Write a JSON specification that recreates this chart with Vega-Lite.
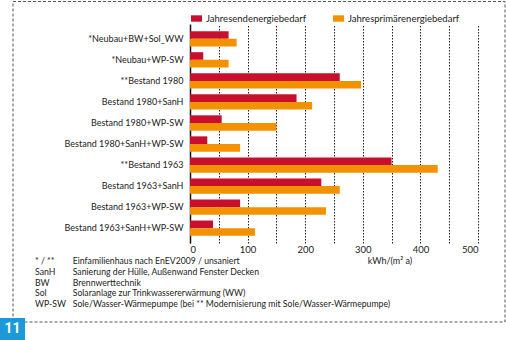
{
  "$schema": "https://vega.github.io/schema/vega-lite/v6.json",
  "padding": {"left": 0, "top": 1, "right": 0, "bottom": 0},
  "autosize": {"type": "pad"},
  "background": "white",
  "bounds": "flush",
  "spacing": 12.6,
  "config": {
    "font": "Lato",
    "view": {"stroke": null},
    "text": {"font": "Lato"}
  },
  "vconcat": [
    {
      "width": 288,
      "height": 219,
      "layer": [
        {
          "data": {"values": [{"label": "border"}]},
          "mark": {"type": "rect", "fill": null, "stroke": "#555", "strokeWidth": 1, "strokeDash": [3, 2]},
          "encoding": {
            "x": {"value": -177}, "x2": {"value": 315},
            "y": {"value": -22.5}, "y2": {"value": 298}
          }
        },
        {
          "data": {"values": [{"label": "11"}]},
          "mark": {"type": "rect", "fill": "#1B9AD7"},
          "encoding": {
            "x": {"value": -190}, "x2": {"value": -165},
            "y": {"value": 294}, "y2": {"value": 316}
          }
        },
        {
          "data": {"values": [{"label": "11"}]},
          "mark": {"type": "text", "color": "white", "fontSize": 14, "fontWeight": "bold", "font": "Roboto", "align": "center", "baseline": "middle"},
          "encoding": {
            "x": {"value": -177.5}, "y": {"value": 305},
            "text": {"field": "label", "type": "nominal"}
          }
        },
        {
          "data": {
            "values": [
              {"category": "*Neubau+BW+Sol_WW", "series": "Jahresendenergiebedarf", "value": 67},
              {"category": "*Neubau+BW+Sol_WW", "series": "Jahresprimärenergiebedarf", "value": 81},
              {"category": "*Neubau+WP-SW", "series": "Jahresendenergiebedarf", "value": 23},
              {"category": "*Neubau+WP-SW", "series": "Jahresprimärenergiebedarf", "value": 67},
              {"category": "**Bestand 1980", "series": "Jahresendenergiebedarf", "value": 260},
              {"category": "**Bestand 1980", "series": "Jahresprimärenergiebedarf", "value": 297},
              {"category": "Bestand 1980+SanH", "series": "Jahresendenergiebedarf", "value": 185},
              {"category": "Bestand 1980+SanH", "series": "Jahresprimärenergiebedarf", "value": 212},
              {"category": "Bestand 1980+WP-SW", "series": "Jahresendenergiebedarf", "value": 55},
              {"category": "Bestand 1980+WP-SW", "series": "Jahresprimärenergiebedarf", "value": 150},
              {"category": "Bestand 1980+SanH+WP-SW", "series": "Jahresendenergiebedarf", "value": 30},
              {"category": "Bestand 1980+SanH+WP-SW", "series": "Jahresprimärenergiebedarf", "value": 87},
              {"category": "**Bestand 1963", "series": "Jahresendenergiebedarf", "value": 350},
              {"category": "**Bestand 1963", "series": "Jahresprimärenergiebedarf", "value": 430},
              {"category": "Bestand 1963+SanH", "series": "Jahresendenergiebedarf", "value": 228},
              {"category": "Bestand 1963+SanH", "series": "Jahresprimärenergiebedarf", "value": 260},
              {"category": "Bestand 1963+WP-SW", "series": "Jahresendenergiebedarf", "value": 87},
              {"category": "Bestand 1963+WP-SW", "series": "Jahresprimärenergiebedarf", "value": 236},
              {"category": "Bestand 1963+SanH+WP-SW", "series": "Jahresendenergiebedarf", "value": 40},
              {"category": "Bestand 1963+SanH+WP-SW", "series": "Jahresprimärenergiebedarf", "value": 113}
            ]
          },
          "mark": {"type": "bar"},
          "encoding": {
            "x": {
              "field": "value", "type": "quantitative",
              "scale": {"domain": [0, 500], "nice": false},
              "axis": {
                "values": [0, 50, 100, 150, 200, 250, 300, 350, 400, 450, 500],
                "labelExpr": "datum.value % 100 === 0 ? datum.label : ''",
                "title": null,
                "domain": false, "ticks": false,
                "grid": true, "gridColor": "#222", "gridDash": [1.5, 1.5], "gridWidth": 1,
                "labelFont": "Lato", "labelFontSize": 9.5, "labelColor": "#222", "labelPadding": 1.5
              }
            },
            "y": {
              "field": "category", "type": "nominal", "sort": null,
              "scale": {"paddingInner": 0.272, "paddingOuter": 0.34},
              "axis": {
                "title": null, "ticks": false, "grid": false,
                "domainColor": "#111", "domainWidth": 1.5,
                "labelFont": "Lato", "labelFontSize": 9, "labelColor": "#222", "labelPadding": 7
              }
            },
            "yOffset": {"field": "series", "type": "nominal", "sort": null},
            "color": {
              "field": "series", "type": "nominal", "sort": null,
              "scale": {"range": ["#C8102E", "#F39200"]},
              "legend": {
                "title": null, "orient": "none", "direction": "horizontal",
                "legendX": 1, "legendY": -11,
                "symbolType": "M-1,-0.58H1V0.58H-1Z", "symbolSize": 121,
                "symbolStrokeWidth": 0, "symbolOpacity": 1,
                "labelFont": "Lato", "labelFontSize": 9.5, "labelColor": "#222",
                "labelOffset": 4, "columnPadding": 27
              }
            }
          }
        }
      ]
    },
    {
      "width": 288,
      "height": 54,
      "data": {
        "values": [
          {"line": 1, "abbr": "* / **", "desc": "Einfamilienhaus nach EnEV2009  / unsaniert", "unit": "kWh/(m² a)"},
          {"line": 2, "abbr": "SanH", "desc": "Sanierung der Hülle, Außenwand Fenster Decken"},
          {"line": 3, "abbr": "BW", "desc": "Brennwerttechnik"},
          {"line": 4, "abbr": "Sol", "desc": "Solaranlage zur Trinkwassererwärmung (WW)"},
          {"line": 5, "abbr": "WP-SW", "desc": "Sole/Wasser-Wärmepumpe (bei ** Modernisierung mit Sole/Wasser-Wärmepumpe)"}
        ]
      },
      "encoding": {
        "y": {"field": "line", "type": "ordinal", "axis": null, "scale": {"paddingInner": 0, "paddingOuter": 0}}
      },
      "layer": [
        {
          "mark": {"type": "text", "align": "left", "baseline": "middle", "fontSize": 8.7, "color": "#222"},
          "encoding": {"x": {"value": -155}, "text": {"field": "abbr", "type": "nominal"}}
        },
        {
          "mark": {"type": "text", "align": "left", "baseline": "middle", "fontSize": 8.7, "color": "#222"},
          "encoding": {"x": {"value": -117.3}, "text": {"field": "desc", "type": "nominal"}}
        },
        {
          "transform": [{"filter": "isValid(datum.unit)"}],
          "mark": {"type": "text", "align": "center", "baseline": "middle", "fontSize": 9, "color": "#222"},
          "encoding": {"x": {"value": 200}, "text": {"field": "unit", "type": "nominal"}}
        }
      ]
    }
  ]
}
